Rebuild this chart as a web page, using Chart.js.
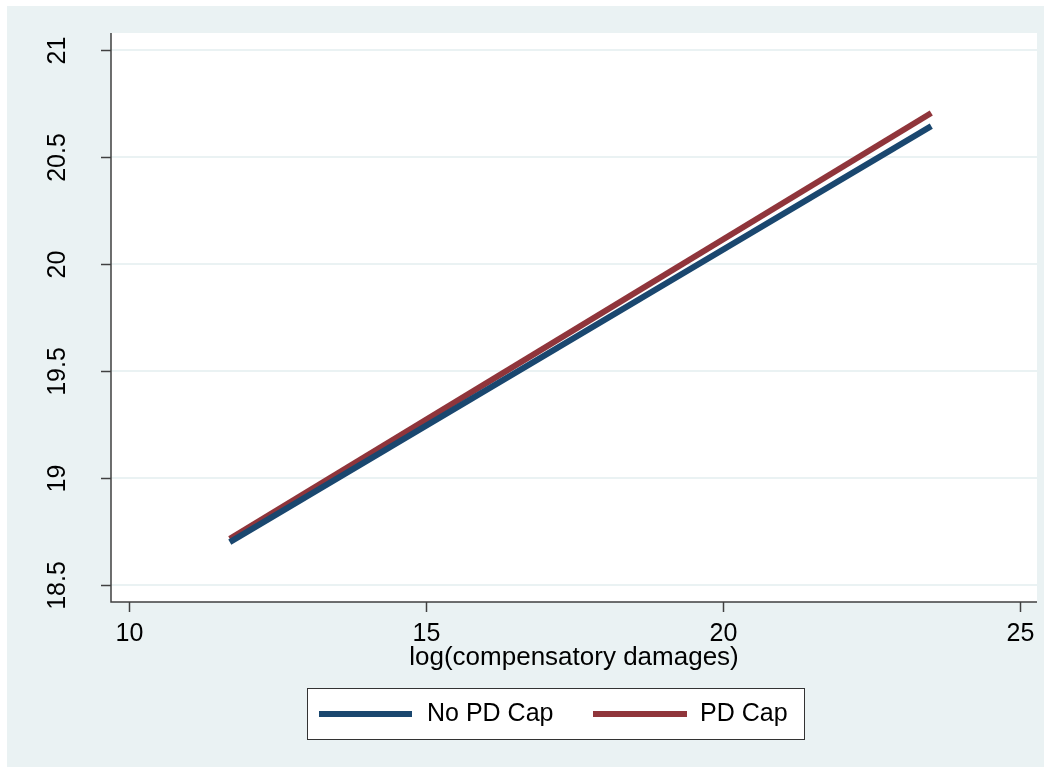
<!DOCTYPE html>
<html>
<head>
<meta charset="utf-8">
<script src="https://cdn.jsdelivr.net/npm/chart.js@4/dist/chart.umd.min.js"></script>
<style>
  body { margin: 0; background: #fff; }
  canvas { display: block; }
</style>
</head>
<body>
<canvas id="canvas" width="1051" height="773"></canvas>
<script>
const seriesNames = ['No PD Cap', 'PD Cap']
const seriesColors = ['#1a476f', '#90353b']
const xValues = [11.7, 23.51]
const noCapValues = [18.70, 20.645]
const capValues = [18.715, 20.706]
const xTicks = [10, 15, 20, 25]
const yTicks = [18.5, 19, 19.5, 20, 20.5, 21]
const xTitle = 'log(compensatory damages)'

const toPoints = (ys) => xValues.map((x, i) => ({ x: x, y: ys[i] }))

const font = (size) => size + 'px "Liberation Sans", Arial, sans-serif'

// stata-ish frame: panel, plot region, grid, axes, ticks and legend
const stataFrame = {
  id: 'stataFrame',
  beforeDraw(chart) {
    const ctx = chart.ctx
    const a = chart.chartArea
    const y = chart.scales.y
    ctx.save()
    ctx.fillStyle = '#eaf2f3'
    ctx.fillRect(7, 6, 1037, 761)
    ctx.fillStyle = '#ffffff'
    ctx.fillRect(a.left, a.top, a.right - a.left, a.bottom - a.top)
    ctx.strokeStyle = '#eaf2f3'
    ctx.lineWidth = 2
    yTicks.forEach((t) => {
      const py = Math.round(y.getPixelForValue(t))
      ctx.beginPath()
      ctx.moveTo(a.left, py)
      ctx.lineTo(a.right, py)
      ctx.stroke()
    })
    ctx.restore()
  },
  afterDraw(chart) {
    const ctx = chart.ctx
    const a = chart.chartArea
    const x = chart.scales.x
    const y = chart.scales.y
    ctx.save()
    ctx.strokeStyle = '#404040'
    ctx.lineWidth = 1.5
    ctx.beginPath()
    ctx.moveTo(a.left, a.top)
    ctx.lineTo(a.left, a.bottom)
    ctx.lineTo(a.right, a.bottom)
    ctx.stroke()

    ctx.fillStyle = '#000'
    ctx.font = font(25)
    ctx.textAlign = 'center'
    ctx.textBaseline = 'middle'
    xTicks.forEach((t) => {
      const px = Math.round(x.getPixelForValue(t)) + 0.5
      ctx.beginPath()
      ctx.moveTo(px, a.bottom)
      ctx.lineTo(px, a.bottom + 10)
      ctx.stroke()
      ctx.fillText(String(t), px, a.bottom + 32)
    })
    yTicks.forEach((t) => {
      const py = Math.round(y.getPixelForValue(t)) + 0.5
      ctx.beginPath()
      ctx.moveTo(a.left - 10, py)
      ctx.lineTo(a.left, py)
      ctx.stroke()
      ctx.save()
      ctx.translate(58, py)
      ctx.rotate(-Math.PI / 2)
      ctx.fillText(String(t), 0, 0)
      ctx.restore()
    })
    ctx.font = font(26)
    ctx.fillText(xTitle, 574, 658)

    // legend
    ctx.fillStyle = '#fff'
    ctx.fillRect(307, 688, 497, 51)
    ctx.strokeStyle = '#333'
    ctx.lineWidth = 1
    ctx.strokeRect(307.5, 688.5, 497, 51)
    const slots = [[319, 412, 427], [593, 687, 700]]
    chart.data.datasets.forEach((ds, i) => {
      const s = slots[i]
      ctx.strokeStyle = ds.borderColor
      ctx.lineWidth = 6
      ctx.beginPath()
      ctx.moveTo(s[0], 714)
      ctx.lineTo(s[1], 714)
      ctx.stroke()
      ctx.fillStyle = '#000'
      ctx.font = font(25)
      ctx.textAlign = 'left'
      ctx.fillText(ds.label, s[2], 714)
    })
    ctx.restore()
  },
}

const data = {
  datasets: [
    {
      label: seriesNames[0],
      borderColor: seriesColors[0],
      backgroundColor: seriesColors[0],
      data: toPoints(noCapValues),
    },
    {
      label: seriesNames[1],
      borderColor: seriesColors[1],
      backgroundColor: seriesColors[1],
      data: toPoints(capValues),
    },
  ],
}

const config = {
  type: 'scatter',
  data: data,
  options: {
    responsive: false,
    animation: false,
    layout: { padding: { left: 111, top: 33, right: 14, bottom: 171 } },
    elements: {
      line: { borderWidth: 6, borderCapStyle: 'butt', tension: 0 },
      point: { radius: 0, hoverRadius: 0 },
    },
    datasets: { scatter: { showLine: true } },
    scales: {
      x: { type: 'linear', display: false, min: 9.7, max: 25.29 },
      y: { type: 'linear', display: false, min: 18.42, max: 21.08 },
    },
    plugins: { legend: { display: false }, tooltip: { enabled: false } },
  },
  plugins: [stataFrame],
}

const canvas = document.getElementById('canvas')
const chart = new Chart(canvas, config)
</script>
</body>
</html>
